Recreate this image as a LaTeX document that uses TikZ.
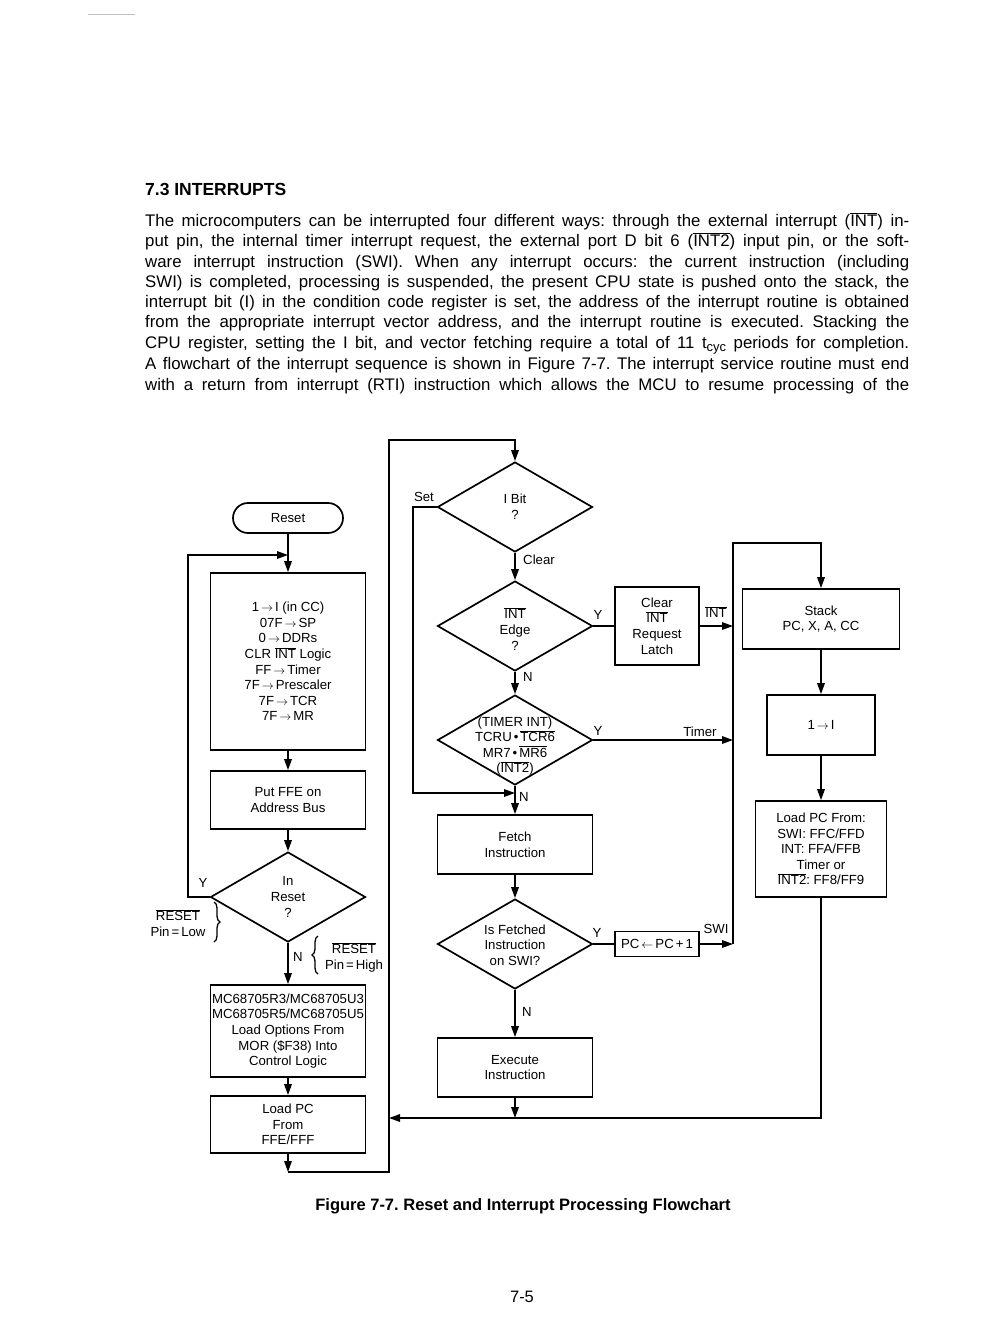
\documentclass[tikz,border=0pt]{standalone}
\usepackage{fontspec}
\setmainfont{Liberation Sans}
\newfontfamily\bodyfont{Liberation Sans}
\usetikzlibrary{arrows.meta,shapes.geometric,decorations.pathreplacing}
\newcommand\ovl[1]{$\overline{\hbox{#1}}$}
\newcommand\bline[1]{\makebox[764pt][s]{#1}}
\frenchspacing
\begin{document}
\begin{tikzpicture}[x=1pt,y=-1pt,
  every node/.style={inner sep=0pt},
  fl/.style={font=\fontsize{13.2}{15.6}\selectfont, align=center},
  lab/.style={font=\fontsize{13.2}{15.6}\selectfont},
  box/.style={draw, line width=1.7pt, fl, minimum width=155pt},
  dia/.style={diamond, draw, line width=1.7pt, minimum width=155pt, minimum height=90pt},
  ln/.style={line width=1.6pt},
  arr/.style={line width=1.6pt, -{Triangle[length=11pt,width=7.5pt]}},
  brc/.style={line width=1.3pt, decorate, decoration={brace, amplitude=6pt}},
  body/.style={anchor=base west, font=\bodyfont\fontsize{16.8}{20}\selectfont}
]
\useasboundingbox (0,0) rectangle (1008,1342);
\draw[gray!50, line width=1pt] (88,14) -- (135,14);

% ---------- text ----------
\node[anchor=base west, font=\bfseries\fontsize{17.5}{20}\selectfont] (head) at (145,195) {7.3 INTERRUPTS};
\node[body] (l1) at (145,226) {\bline{The microcomputers can be interrupted four different ways: through the external interrupt (\ovl{INT}) in-}};
\node[body] (l2) at (145,246.5) {\bline{put pin, the internal timer interrupt request, the external port D bit 6 (\ovl{INT2}) input pin, or the soft-}};
\node[body] (l3) at (145,267) {\bline{ware interrupt instruction (SWI). When any interrupt occurs: the current instruction (including}};
\node[body] (l4) at (145,287.5) {\bline{SWI) is completed, processing is suspended, the present CPU state is pushed onto the stack, the}};
\node[body] (l5) at (145,307) {\bline{interrupt bit (I) in the condition code register is set, the address of the interrupt routine is obtained}};
\node[body] (l6) at (145,327.5) {\bline{from the appropriate interrupt vector address, and the interrupt routine is executed. Stacking the}};
\node[body] (l7) at (145,348) {\bline{CPU register, setting the I bit, and vector fetching require a total of 11 t\raisebox{-0.35ex}{\fontsize{13}{13}\selectfont cyc} periods for completion.}};
\node[body] (l8) at (145,369) {\bline{A flowchart of the interrupt sequence is shown in Figure 7-7. The interrupt service routine must end}};
\node[body] (l9) at (145,390) {\bline{with a return from interrupt (RTI) instruction which allows the MCU to resume processing of the}};

\node[anchor=base, font=\bfseries\fontsize{16.5}{20}\selectfont] (cap) at (523,1210) {Figure 7-7. Reset and Interrupt Processing Flowchart};
\node[anchor=base, font=\fontsize{16.5}{20}\selectfont] (pg) at (522,1302) {7-5};

% ---------- left column ----------
\node[draw, line width=1.7pt, rounded corners=15pt, minimum width=110pt, minimum height=30pt, fl] (reset) at (288,518) {Reset};
\node[box, minimum height=177pt] (init) at (288,661.5) {1$\,\rightarrow\,$I (in CC)\\07F$\,\rightarrow\,$SP\\0$\,\rightarrow\,$DDRs\\CLR \ovl{INT} Logic\\FF$\,\rightarrow\,$Timer\\7F$\,\rightarrow\,$Prescaler\\7F$\,\rightarrow\,$TCR\\7F$\,\rightarrow\,$MR};
\node[box, minimum height=58pt] (putffe) at (288,800) {Put FFE on\\Address Bus};
\node[dia] (inreset) at (288,897) {};
\node[fl] (inresett) at (288,897) {In\\Reset\\?};
\node[box, minimum height=92pt] (mc) at (288,1031) {MC68705R3/MC68705U3\\MC68705R5/MC68705U5\\Load Options From\\MOR (\$F38) Into\\Control Logic};
\node[box, minimum height=57pt] (loadpc) at (288,1124.5) {Load PC\\From\\FFE/FFF};

\coordinate (jb) at (288,1172);
\coordinate (c1) at (389,1172);
\coordinate (c2) at (389,440);
\coordinate (jy) at (188,555);
\coordinate (jyr) at (288,555);

\node[lab] (ly) at (203,883) {Y};
\node[fl] (rlow) at (178,923) {\ovl{RESET}\\Pin$\,$=$\,$Low};
\node[lab] (ln) at (298,957) {N};
\node[fl] (rhigh) at (354,957) {\ovl{RESET}\\Pin$\,$=$\,$High};
\draw[brc] (214,902) -- (214,942);
\draw[brc] (318,974) -- (318,936);

% ---------- middle column ----------
\node[dia] (ibit) at (515,507) {};
\node[fl] (ibitt) at (515,507) {I Bit\\?};
\node[dia] (intedge) at (515,626) {};
\node[fl] (intedget) at (515,629) {\ovl{INT}\\Edge\\?};
\node[dia] (timer) at (515,740) {};
\node[fl] (timert) at (515,746) {(TIMER INT)\\TCRU$\,$•$\,$\ovl{TCR6}\\MR7$\,$•$\,$\ovl{MR6}\\(\ovl{INT2})};
\node[box, minimum height=59pt] (fetch) at (515,844.5) {Fetch\\Instruction};
\node[dia] (swi) at (515,944) {};
\node[fl] (swit) at (515,945) {Is Fetched\\Instruction\\on SWI?};
\node[box, minimum height=59pt] (exec) at (515,1067.5) {Execute\\Instruction};

\coordinate (cset) at (413,793);
\coordinate (fj) at (515,793);
\coordinate (ej) at (515,1118);

\node[lab] (lset) at (424,497) {Set};
\node[lab] (lclear) at (539,560) {Clear};
\node[lab] (ly1) at (598,615) {Y};
\node[lab] (ln1) at (528,677) {N};
\node[lab] (ly2) at (598,731) {Y};
\node[lab] (ln2) at (524,797) {N};
\node[lab] (ly3) at (597,933) {Y};
\node[lab] (ln3) at (527,1012) {N};

% ---------- right side ----------
\node[box, minimum width=84pt, minimum height=78pt] (clear) at (657,626) {Clear\\\ovl{INT}\\Request\\Latch};
\node[box, minimum width=84pt, minimum height=25pt] (pcinc) at (657,944) {PC$\,\leftarrow\,$PC$\,$+$\,$1};
\node[box, minimum width=157pt, minimum height=60pt] (stack) at (821,619) {Stack\\PC, X, A, CC};
\node[box, minimum width=108pt, minimum height=60pt] (onei) at (821,725) {1$\,\rightarrow\,$I};
\node[box, minimum width=131pt, minimum height=96pt] (loadfrom) at (821,849) {Load PC From:\\SWI: FFC/FFD\\INT: FFA/FFB\\Timer or\\\ovl{INT2}: FF8/FF9};

\coordinate (ci) at (733,626);
\coordinate (ti) at (733,740);
\coordinate (si) at (733,944);
\coordinate (ctop) at (733,543);
\coordinate (ebr) at (821,1118);
\coordinate (ebl) at (389,1118);

\node[lab] (lint) at (716,612) {\ovl{INT}};
\node[lab] (ltimer) at (700,732) {Timer};
\node[lab] (lswi) at (716,929) {SWI};

% ---------- connectors ----------
\draw[arr] (reset) -- (init);
\draw[arr] (init) -- (putffe);
\draw[arr] (putffe) -- (inreset);
\draw[arr] (inreset) -- (mc);
\draw[arr] (mc) -- (loadpc);
\draw[arr] (loadpc) -- (jb);
\draw[arr] (jb) -- (c1) -- (c2) -| (ibit.north);
\draw[arr] (inreset.west) -| (jy) -- (jyr);

\draw[arr] (ibit) -- (intedge);
\draw[arr] (intedge) -- (timer);
\draw[arr] (timer) -- (fetch);
\draw[arr] (fetch) -- (swi);
\draw[arr] (swi) -- (exec);
\draw[arr] (exec) -- (ej);
\draw[arr] (ibit.west) -| (cset) -- (fj);

\draw[ln] (intedge.east) -- (clear.west);
\draw[arr] (clear.east) -- (ci);
\draw[arr] (timer.east) -- (ti);
\draw[ln] (swi.east) -- (pcinc.west);
\draw[arr] (pcinc.east) -- (si);
\draw[arr] (si) -- (ctop) -| (stack.north);
\draw[arr] (stack) -- (onei);
\draw[arr] (onei) -- (loadfrom);
\draw[arr] (loadfrom) -- (ebr) -- (ebl);
\end{tikzpicture}
\end{document}
